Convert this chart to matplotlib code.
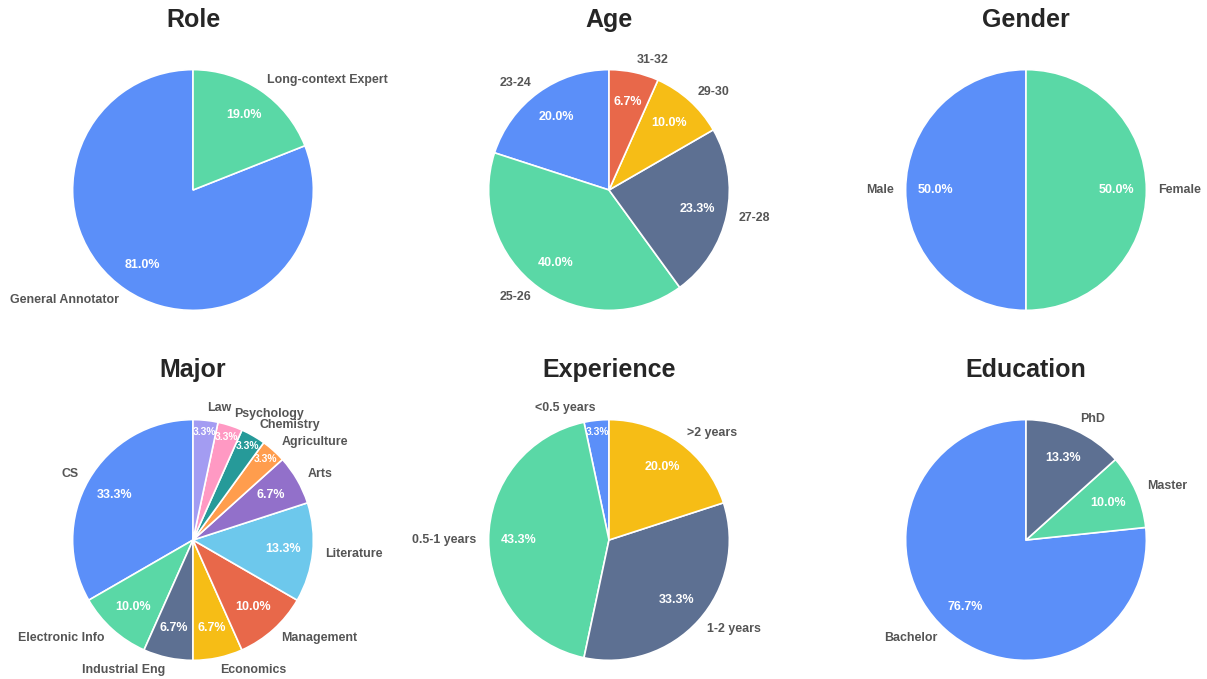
import matplotlib
matplotlib.use("Agg")
import matplotlib.pyplot as plt

plt.rcParams['font.family'] = ['Liberation Sans', 'DejaVu Sans']

# ---- data ----
role_labels = ["General Annotator", "Long-context Expert"]
role_values = [81, 19]

age_labels = ["23-24", "25-26", "27-28", "29-30", "31-32"]
age_values = [6, 12, 7, 3, 2]

gender_labels = ["Male", "Female"]
gender_values = [15, 15]

major_labels = ["CS", "Electronic Info", "Industrial Eng", "Economics", "Management",
                "Literature", "Arts", "Agriculture", "Chemistry", "Psychology", "Law"]
major_values = [10, 3, 2, 2, 3, 4, 2, 1, 1, 1, 1]

exp_labels = ["<0.5 years", "0.5-1 years", "1-2 years", ">2 years"]
exp_values = [1, 13, 10, 6]

edu_labels = ["Bachelor", "Master", "PhD"]
edu_values = [23, 3, 4]

palette = ["#5B8FF9", "#5AD8A6", "#5D7092", "#F6BD16", "#E8684A",
           "#6DC8EC", "#9270CA", "#FF9D4D", "#269A99", "#FF99C3", "#A39CF2"]

exp_colors = ["#5B8FF9", "#5AD8A6", "#5D7092", "#F6BD16"]
edu_colors = ["#5B8FF9", "#5AD8A6", "#5D7092"]

panels = [
    ("Role", role_labels, role_values, palette),
    ("Age", age_labels, age_values, palette),
    ("Gender", gender_labels, gender_values, palette),
    ("Major", major_labels, major_values, palette),
    ("Experience", exp_labels, exp_values, exp_colors),
    ("Education", edu_labels, edu_values, edu_colors),
]

W, H = 1207, 679
fig = plt.figure(figsize=(W / 100, H / 100), dpi=100)
fig.patch.set_facecolor("white")

centers = [(193, 190), (609, 190), (1026, 190), (193, 540), (609, 540), (1026, 540)]
box = 260
lim = 1.08
label_color = "#555555"

for (title, labels, values, colors), (cx, cy) in zip(panels, centers):
    ax = fig.add_axes([(cx - box / 2) / W, 1 - (cy + box / 2) / H, box / W, box / H])
    total = sum(values)
    wedges, texts, autotexts = ax.pie(
        values, labels=labels, colors=colors[:len(values)], startangle=90,
        autopct="%1.1f%%", pctdistance=0.75, labeldistance=1.1,
        wedgeprops=dict(edgecolor="white", linewidth=1.2),
        textprops=dict(fontsize=8.9, fontweight="bold", color=label_color))
    for v, t in zip(values, autotexts):
        t.set_color("white")
        t.set_fontweight("bold")
        if v / total < 0.05:
            x, y = t.get_position()
            t.set_position((x * 0.9 / 0.75, y * 0.9 / 0.75))
            t.set_fontsize(7.4)
        else:
            t.set_fontsize(9)
    ax.set_xlim(-lim, lim)
    ax.set_ylim(-lim, lim)
    ax.set_aspect("equal")
    ax.axis("off")
    fig.text(cx / W, 1 - (cy - 163) / H, title, ha="center", va="baseline",
             fontsize=18, fontweight="bold", color="#262626")

fig.savefig("out.png", dpi=100, facecolor="white")
